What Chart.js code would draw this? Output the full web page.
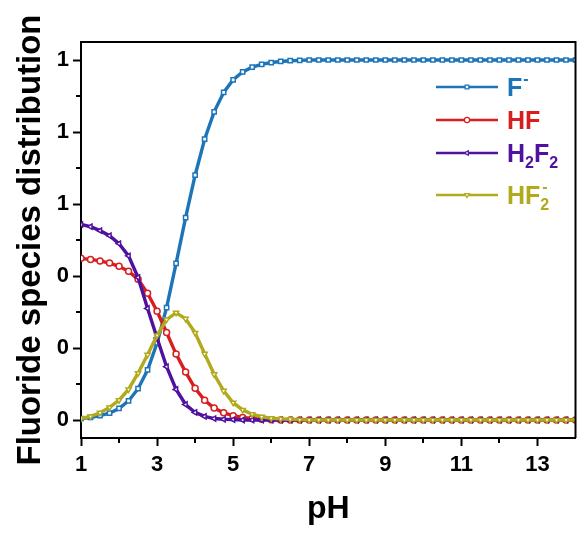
<!DOCTYPE html>
<html><head><meta charset="utf-8">
<script src="https://cdn.jsdelivr.net/npm/chart.js@4/dist/chart.umd.min.js"></script>
<style>html,body{margin:0;padding:0;background:#fff;}canvas{display:block;}</style>
</head><body>
<canvas id="c" width="581" height="541"></canvas>
<script>
// ---- data ----
const pH = [1,1.25,1.5,1.75,2,2.25,2.5,2.75,3,3.25,3.5,3.75,4,4.25,4.5,4.75,5,5.25,5.5,5.75,6,6.25,6.5,6.75,
  7,7.25,7.5,7.75,8,8.25,8.5,8.75,9,9.25,9.5,9.75,10,10.25,10.5,10.75,11,11.25,11.5,11.75,12,12.25,12.5,12.75,13,13.25,13.5,13.75,14];
const F_minus = [0.004,0.007,0.012,0.019,0.032,0.053,0.087,0.139,0.214,0.312,0.435,0.562,0.680,0.780,0.856,0.910,0.945,0.967,0.980,0.988,0.993,0.996,0.998,0.999,
  1,1,1,1,1,1,1,1,1,1,1,1,1,1,1,1,1,1,1,1,1,1,1,1,1,1,1,1,1];
const HF = [0.449,0.446,0.442,0.436,0.427,0.413,0.391,0.352,0.302,0.243,0.183,0.133,0.088,0.055,0.033,0.020,0.012,0.007,0.004,0.002,0.001,
  0,0,0,0,0,0,0,0,0,0,0,0,0,0,0,0,0,0,0,0,0,0,0,0,0,0,0,0,0,0,0,0];
const H2F2 = [0.543,0.537,0.526,0.512,0.490,0.456,0.396,0.310,0.228,0.148,0.085,0.043,0.021,0.010,0.004,0.002,0.001,
  0,0,0,0,0,0,0,0,0,0,0,0,0,0,0,0,0,0,0,0,0,0,0,0,0,0,0,0,0,0,0,0,0,0,0,0];
const HF2_minus = [0.004,0.010,0.020,0.035,0.055,0.085,0.130,0.181,0.235,0.279,0.298,0.281,0.242,0.184,0.127,0.081,0.048,0.028,0.016,0.009,0.005,0.003,0.002,0.001,
  0,0,0,0,0,0,0,0,0,0,0,0,0,0,0,0,0,0,0,0,0,0,0,0,0,0,0,0,0];
const xMajorTicks = [1,3,5,7,9,11,13];
const xMinorTicks = [2,4,6,8,10,12];
const yMajorTicks = [0,0.2,0.4,0.6,0.8,1.0];
const yTickLabels = ['0','0','0','1','1','1'];
const yMinorTicks = [0.1,0.3,0.5,0.7,0.9];
const seriesNames = ['F-','HF','H2F2','HF2-'];

// ---- styles ----
const FONT = "'Liberation Sans', Arial, sans-serif";
const colors = ['#1c74b9','#d81e1e','#4f119e','#b0aa1c'];
const pointStyles = ['rect','circle','triangle','triangle'];
const rotations = [0,0,-90,180];
const seriesData = [F_minus, HF, H2F2, HF2_minus];

const datasets = seriesData.map((arr,k)=>({
  label: seriesNames[k],
  data: arr.map((v,i)=>({x:pH[i], y:v})),
  borderColor: colors[k],
  backgroundColor: colors[k],
  borderWidth: 3.4,
  tension: 0,
  pointStyle: pointStyles[k],
  rotation: rotations[k],
  pointRadius: 3,
  pointBorderWidth: 1.5,
  pointBackgroundColor: '#ffffff',
  pointBorderColor: colors[k],
  order: 3-k
}));

// legend rich text parts
const legendParts = [
  [{t:'F'},{t:'-',sup:true}],
  [{t:'HF'}],
  [{t:'H'},{t:'2',sub:true},{t:'F'},{t:'2',sub:true}],
  [{t:'HF'},{t:'2',sub:true,stack:true},{t:'-',sup:true}]
];

const framePlugin = {
  id:'frame',
  afterDraw(chart){
    const {ctx, chartArea:a, scales:{x,y}} = chart;
    ctx.save();
    ctx.strokeStyle='#000'; ctx.lineWidth=2;
    ctx.beginPath();
    ctx.moveTo(a.left, a.top); ctx.lineTo(a.right, a.top); ctx.lineTo(a.right, a.bottom);
    ctx.stroke();
    // minor ticks
    ctx.beginPath();
    xMinorTicks.forEach(v=>{ const px=Math.round(x.getPixelForValue(v)); ctx.moveTo(px,a.bottom); ctx.lineTo(px,a.bottom+5); });
    yMinorTicks.forEach(v=>{ const py=Math.round(y.getPixelForValue(v)); ctx.moveTo(a.left-5,py); ctx.lineTo(a.left,py); });
    ctx.stroke();
    // legend
    const ys=[87,120,153,195];
    legendParts.forEach((parts,k)=>{
      const yy=ys[k];
      ctx.strokeStyle=colors[k]; ctx.lineWidth=2.5;
      ctx.beginPath(); ctx.moveTo(436,yy); ctx.lineTo(498,yy); ctx.stroke();
      ctx.fillStyle='#fff'; ctx.strokeStyle=colors[k]; ctx.lineWidth=1.2;
      Chart.helpers.drawPoint(ctx,{pointStyle:pointStyles[k],rotation:rotations[k],radius:2.6,borderWidth:1.2},467,yy);
      ctx.fillStyle=colors[k];
      ctx.textBaseline='alphabetic'; ctx.textAlign='left';
      let tx=507; const base=yy+9;
      let lastSubX=null;
      const stacked = parts.some(q=>q.stack);
      parts.forEach(p=>{
        if(p.sub){
          ctx.font="bold 16px "+FONT;
          ctx.fillText(p.t,tx,base+6);
          lastSubX=tx;
          tx+=ctx.measureText(p.t).width;
        } else if(p.sup){
          ctx.font="bold 16px "+FONT;
          const sx = (lastSubX!==null && stacked) ? lastSubX+2 : tx+1;
          ctx.fillText(p.t,sx,base-12);
          if(!(lastSubX!==null && stacked)) tx+=ctx.measureText(p.t).width;
        } else {
          ctx.font="bold 25px "+FONT;
          ctx.fillText(p.t,tx,base);
          tx+=ctx.measureText(p.t).width;
        }
      });
    });
    ctx.restore();
  }
};

Chart.defaults.font.family = FONT;
Chart.defaults.color = '#000';

new Chart(document.getElementById('c'), {
  type:'line',
  data:{datasets},
  options:{
    responsive:false, animation:false,
    layout:{padding:{top:42,right:5,left:0,bottom:0}},
    plugins:{legend:{display:false}, tooltip:{enabled:false}},
    scales:{
      x:{
        type:'linear', min:1, max:14,
        afterBuildTicks(s){ s.ticks = xMajorTicks.map(v=>({value:v})); },
        afterFit(s){ s.height = 103; },
        ticks:{ font:{size:22, weight:'bold'}, padding:6, maxRotation:0, autoSkip:false, color:'#000',
          callback:(v)=>String(v) },
        grid:{ display:true, drawOnChartArea:false, drawTicks:true, tickLength:8, tickWidth:2, tickColor:'#000', color:'#000' },
        border:{ display:true, color:'#000', width:2 },
        title:{ display:true, text:'pH', font:{size:32, weight:'bold', lineHeight:1}, padding:{top:0,bottom:16}, color:'#000' }
      },
      y:{
        type:'linear', min:-0.05, max:1.05,
        afterBuildTicks(s){ s.ticks = yMajorTicks.map(v=>({value:v})); },
        afterFit(s){ s.width = 81; },
        ticks:{ font:{size:22, weight:'bold'}, padding:4, autoSkip:false, color:'#000',
          callback:(v,i)=>yTickLabels[i] },
        grid:{ display:true, drawOnChartArea:false, drawTicks:true, tickLength:8, tickWidth:2, tickColor:'#000', color:'#000' },
        border:{ display:true, color:'#000', width:2 },
        title:{ display:true, text:'Fluoride species distribution', font:{size:33, weight:'bold', lineHeight:1}, padding:{top:14,bottom:0}, color:'#000' }
      }
    }
  },
  plugins:[framePlugin]
});
</script>
</body></html>
